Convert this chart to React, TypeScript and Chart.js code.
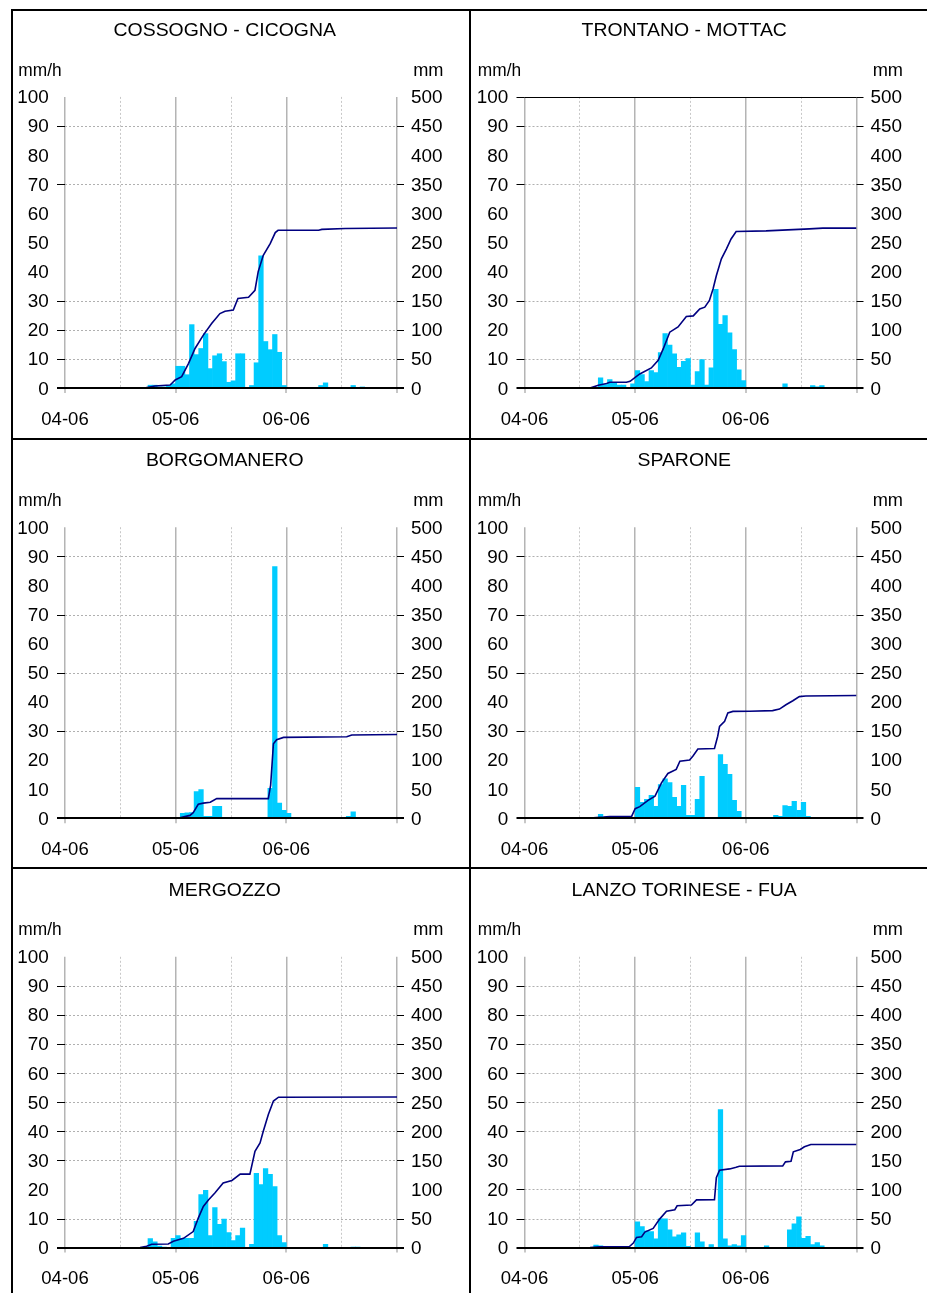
import React, { useEffect, useRef } from "react";
import { Chart, registerables } from "chart.js";

Chart.register(...registerables);

// ---------- axes / labels ----------
const dayHours = [0, 24, 48, 72];
const dayLabels = ["04-06", "05-06", "06-06"];
const leftTicks = [0, 10, 20, 30, 40, 50, 60, 70, 80, 90, 100];
const rightTicks = [0, 50, 100, 150, 200, 250, 300, 350, 400, 450, 500];

// ---------- COSSOGNO - CICOGNA ----------
const cossognoRain = [
  0, 0, 0, 0, 0, 0, 0, 0, 0, 0, 0, 0,
  0, 0, 0, 0, 0, 0, 1.0, 1.0, 0.4, 0.4, 0.8, 1.5,
  7.5, 7.5, 4.6, 21.8, 11.5, 13.6, 18.7, 6.7, 11.1, 11.8, 9.1, 2.0,
  2.5, 11.8, 11.8, 0, 0.9, 8.7, 45.4, 16.0, 13.2, 18.4, 12.3, 0.9,
  0, 0, 0, 0, 0, 0, 0, 0.9, 1.8, 0, 0, 0,
  0, 0, 0.9, 0, 0.4, 0, 0, 0, 0, 0, 0, 0,
];
const cossognoCumHours = [17.2, 19.5, 22.8, 23.9, 25.3, 26.8, 28.2, 30.0, 31.8, 33.6, 34.7, 36.5, 37.5, 39.8, 41.2, 41.9, 43.0, 44.5, 45.6, 46.2, 55.0, 55.7, 60.8, 72.0];
const cossognoCumMm = [0, 3.6, 5.3, 14, 19.7, 42.5, 68, 91, 111, 128, 132, 134, 154, 156, 168, 200, 228, 248, 267, 271, 271, 272.5, 274, 275];

// ---------- TRONTANO - MOTTAC ----------
const trontanoRain = [
  0, 0, 0, 0, 0, 0, 0, 0, 0, 0, 0, 0,
  0, 0, 0, 0, 3.5, 1.2, 2.9, 1.7, 1.0, 1.0, 0, 1.5,
  6.0, 4.6, 2.2, 6.0, 5.3, 12.2, 18.7, 14.8, 11.8, 7.1, 9.2, 10.1,
  1.0, 5.7, 9.8, 1.0, 7.0, 33.9, 21.9, 24.9, 19.0, 13.2, 6.3, 2.6,
  0.3, 0, 0, 0, 0, 0.3, 0, 0, 1.5, 0, 0, 0,
  0, 0.3, 0.9, 0.4, 0.9, 0, 0, 0, 0, 0, 0, 0,
];
const trontanoCumHours = [14.2, 16.0, 17.8, 18.5, 22.1, 22.9, 24.0, 25.0, 27.5, 29.0, 30.1, 31.5, 33.3, 35.1, 36.6, 38.0, 39.1, 40.1, 40.9, 41.6, 42.7, 43.8, 44.8, 45.9, 52.4, 61.8, 64.7, 72];
const trontanoCumMm = [0, 5, 8, 10, 10, 11.7, 18.6, 24.3, 34.6, 47.7, 67.7, 96, 105, 123, 124, 136, 139, 150.6, 170.6, 193, 222, 239, 256, 269, 270, 273.4, 274.6, 274.6];

// ---------- BORGOMANERO ----------
const borgomaneroRain = [
  0, 0, 0, 0, 0, 0, 0, 0, 0, 0, 0, 0,
  0, 0, 0, 0, 0, 0, 0.2, 0.2, 0, 0, 0, 0,
  0, 1.7, 1.9, 2.0, 9.2, 9.9, 0.7, 0.7, 4.1, 4.1, 0, 0,
  0, 0, 0, 0, 0, 0, 0, 0, 10.3, 86.5, 5.2, 2.7,
  1.7, 0, 0, 0, 0, 0, 0, 0, 0, 0, 0, 0,
  0, 0.7, 2.2, 0, 0, 0, 0, 0, 0, 0, 0, 0,
];
const borgomaneroCumHours = [18.4, 24.9, 27.1, 27.8, 28.9, 30.0, 31.5, 32.9, 44.1, 44.6, 45.2, 45.9, 47.4, 61.1, 62.2, 72];
const borgomaneroCumMm = [0, 1, 5, 9.7, 24, 26, 27.5, 33.8, 33.8, 57, 128, 135, 139, 140, 143, 144];

// ---------- SPARONE ----------
const sparoneRain = [
  0, 0, 0, 0, 0, 0, 0, 0, 0, 0, 0, 0,
  0, 0, 0, 0.3, 1.4, 0, 0, 0, 0, 0, 0, 0,
  10.6, 5.5, 6.5, 7.9, 4.1, 11.6, 13.6, 12.3, 7.2, 4.1, 11.3, 1.0,
  1.0, 6.5, 14.4, 0, 0, 0, 21.9, 18.5, 15.1, 6.2, 2.4, 0,
  0, 0, 0, 0, 0, 0, 1.0, 0.7, 4.4, 4.1, 5.8, 2.7,
  5.5, 0.7, 0, 0, 0, 0, 0, 0, 0, 0, 0, 0,
];
const sparoneCumHours = [14.2, 14.9, 17.1, 18.5, 23.2, 24.0, 25.0, 26.8, 28.3, 29.7, 31.1, 32.9, 33.7, 35.8, 36.5, 37.6, 41.2, 41.9, 42.3, 43.4, 44.1, 45.2, 48.8, 53.8, 55.3, 56.7, 58.2, 59.6, 61.0, 72];
const sparoneCumMm = [0, 1, 2, 2.9, 2.9, 16.5, 20, 30.8, 38, 61, 77, 84, 98, 100, 106.6, 119, 120, 141, 158, 166.5, 181, 183.6, 184, 185, 187.6, 195, 202, 209, 210, 211];

// ---------- MERGOZZO ----------
const mergozzoRain = [
  0, 0, 0, 0, 0, 0, 0, 0, 0, 0, 0, 0,
  0, 0, 0, 0, 0, 0, 3.1, 2.0, 0.5, 0.2, 0, 3.2,
  4.1, 3.2, 3.2, 3.2, 9.0, 18.2, 19.7, 4.1, 13.8, 8.0, 9.8, 5.2,
  2.4, 4.1, 6.7, 0, 1.1, 25.5, 21.7, 27.2, 25.2, 21.0, 4.1, 1.7,
  0, 0, 0, 0, 0, 0, 0, 0, 1.1, 0, 0, 0,
  0, 0, 0.2, 0.2, 0, 0, 0, 0, 0, 0, 0, 0,
];
const mergozzoCumHours = [16.3, 17.7, 18.8, 22.4, 23.5, 25.7, 27.8, 28.9, 30.0, 31.1, 32.5, 34.3, 36.2, 38.0, 40.1, 41.2, 42.3, 43.0, 44.1, 45.2, 46.3, 72];
const mergozzoCumMm = [0, 2.3, 5.7, 6.3, 11, 16, 27.6, 50.6, 70.7, 82, 94, 111, 115.5, 126.4, 126.4, 165.5, 180, 200, 229, 252, 258.6, 259];

// ---------- LANZO TORINESE - FUA ----------
const lanzoRain = [
  0, 0, 0, 0, 0, 0, 0, 0, 0, 0, 0, 0,
  0, 0, 0, 0.9, 0.6, 0, 0, 0, 0, 0, 0, 0,
  8.9, 7.2, 5.8, 5.5, 3.0, 9.9, 9.9, 6.1, 3.7, 4.4, 5.1, 0.4,
  0, 5.1, 2.0, 0, 1.0, 0, 47.5, 3.0, 0.6, 1.0, 0.6, 4.1,
  0, 0, 0, 0, 0.6, 0, 0, 0, 0, 6.1, 8.2, 10.6,
  3.2, 3.9, 1.0, 1.7, 0.6, 0, 0, 0, 0, 0, 0, 0,
];
const lanzoCumHours = [14.2, 16.4, 22.7, 23.6, 24.3, 25.4, 26.1, 27.9, 29.3, 30.8, 32.6, 33.1, 36.2, 37.3, 41.2, 41.6, 42.3, 44.5, 45.9, 46.6, 56.0, 56.6, 57.8, 58.3, 59.8, 60.7, 62.1, 72];
const lanzoCumMm = [0, 1.4, 1.4, 7.8, 17.5, 18.7, 26.7, 33, 49, 62.4, 65.2, 72, 73.3, 82, 82.5, 120, 133, 135.3, 138, 140, 140.5, 147.4, 148.6, 164.7, 168.7, 173.3, 177.3, 177.3];

// which horizontal grid lines are visible in each panel
const panels = [
  { title: "COSSOGNO - CICOGNA", rain: cossognoRain, cumH: cossognoCumHours, cumMm: cossognoCumMm, grid: [10, 20, 30, 70, 90], topLine: false, col: 0, row: 0 },
  { title: "TRONTANO - MOTTAC", rain: trontanoRain, cumH: trontanoCumHours, cumMm: trontanoCumMm, grid: [10, 30, 70, 90], topLine: true, col: 1, row: 0 },
  { title: "BORGOMANERO", rain: borgomaneroRain, cumH: borgomaneroCumHours, cumMm: borgomaneroCumMm, grid: [30, 50, 70, 90], topLine: false, col: 0, row: 1 },
  { title: "SPARONE", rain: sparoneRain, cumH: sparoneCumHours, cumMm: sparoneCumMm, grid: [30, 50, 70, 90], topLine: false, col: 1, row: 1 },
  { title: "MERGOZZO", rain: mergozzoRain, cumH: mergozzoCumHours, cumMm: mergozzoCumMm, grid: [10, 30, 40, 50, 60, 70, 80, 90], topLine: false, col: 0, row: 2 },
  { title: "LANZO TORINESE - FUA", rain: lanzoRain, cumH: lanzoCumHours, cumMm: lanzoCumMm, grid: [10, 20, 40, 50, 60, 70, 80, 90], topLine: false, col: 1, row: 2 },
];

const COLS = [
  { cellX: 13, cellW: 456, plotL: 65, plotR: 397 },
  { cellX: 471, cellW: 456, plotL: 524.5, plotR: 856.5 },
];
const ROWS = [
  { cellY: 11, cellH: 427, plotT: 96.9, plotB: 388.1 },
  { cellY: 440, cellH: 427, plotT: 527.2, plotB: 818.3 },
  { cellY: 869, cellH: 424, plotT: 956.8, plotB: 1247.6 },
];

const FONT = '"Liberation Sans", Arial, Helvetica, sans-serif';

function drawStretched(ctx, text, x, y, align, size, sx) {
  ctx.save();
  ctx.font = `${size}px ${FONT}`;
  ctx.fillStyle = "#000";
  ctx.textAlign = "left";
  ctx.textBaseline = "alphabetic";
  const w = ctx.measureText(text).width * sx;
  const left = align === "left" ? x : align === "right" ? x - w : x - w / 2;
  ctx.translate(left, y);
  ctx.scale(sx, 1);
  ctx.fillText(text, 0, 0);
  ctx.restore();
}

function PanelChart({ panel }) {
  const ref = useRef(null);
  const col = COLS[panel.col];
  const row = ROWS[panel.row];

  useEffect(() => {
    const decor = {
      id: "panelDecor",
      beforeDatasetsDraw(chart) {
        const { ctx, chartArea: a, scales } = chart;
        const ys = scales.y;
        ctx.save();
        ctx.lineWidth = 1;
        ctx.strokeStyle = "#b0b0b0";
        ctx.setLineDash([2, 2]);
        for (const v of panel.grid) {
          const y = Math.round(ys.getPixelForValue(v)) + 0.5;
          ctx.beginPath();
          ctx.moveTo(a.left, y);
          ctx.lineTo(a.right, y);
          ctx.stroke();
        }
        ctx.setLineDash([]);
        if (panel.topLine) {
          const y = Math.round(ys.getPixelForValue(100)) + 0.5;
          ctx.strokeStyle = "#000";
          ctx.beginPath();
          ctx.moveTo(a.left, y);
          ctx.lineTo(a.right, y);
          ctx.stroke();
        }
        ctx.restore();
      },
      afterDraw(chart) {
        const { ctx, chartArea: a, scales } = chart;
        const xs = scales.x;
        const ys = scales.y;
        const y1 = scales.y1;
        ctx.save();
        // small marks below the axis at day boundaries
        ctx.strokeStyle = "#b4b4b4";
        ctx.lineWidth = 1.5;
        for (const h of dayHours) {
          const x = Math.round(xs.getPixelForValue(h));
          ctx.beginPath();
          ctx.moveTo(x, a.bottom);
          ctx.lineTo(x, a.bottom + 5);
          ctx.stroke();
        }
        // y tick marks where grid lines are visible
        ctx.strokeStyle = "#000";
        ctx.lineWidth = 1;
        const marks = panel.topLine ? [...panel.grid, 100] : panel.grid;
        for (const v of marks) {
          const y = Math.round(ys.getPixelForValue(v)) + 0.5;
          ctx.beginPath();
          ctx.moveTo(a.left - 8, y);
          ctx.lineTo(a.left, y);
          ctx.moveTo(a.right, y);
          ctx.lineTo(a.right + 7, y);
          ctx.stroke();
        }
        // x axis line
        const y0 = Math.round(ys.getPixelForValue(0));
        ctx.lineWidth = 2;
        ctx.beginPath();
        ctx.moveTo(a.left - 8, y0);
        ctx.lineTo(a.right + 7, y0);
        ctx.stroke();
        ctx.restore();

        // texts
        drawStretched(ctx, panel.title, (a.left + a.right) / 2 - 6.3, a.top - 60.8, "center", 17.5, 1.11);
        drawStretched(ctx, "mm/h", a.left - 46.7, a.top - 21.4, "left", 17.5, 0.99);
        drawStretched(ctx, "mm", a.right + 46.5, a.top - 21.4, "right", 17.5, 1.04);
        for (const v of leftTicks) {
          drawStretched(ctx, String(v), a.left - 16.3, ys.getPixelForValue(v) + 6.4, "right", 17.5, 1.08);
        }
        for (const v of rightTicks) {
          drawStretched(ctx, String(v), a.right + 14, y1.getPixelForValue(v) + 6.4, "left", 17.5, 1.08);
        }
        dayLabels.forEach((lab, i) => {
          drawStretched(ctx, lab, xs.getPixelForValue(dayHours[i]), a.bottom + 36.8, "center", 17.5, 1.06);
        });
      },
    };

    const chart = new Chart(ref.current, {
      type: "bar",
      data: {
        datasets: [
          {
            type: "line",
            data: panel.cumH.map((h, i) => ({ x: h, y: panel.cumMm[i] })),
            xAxisID: "x",
            yAxisID: "y1",
            borderColor: "#000080",
            borderWidth: 1.6,
            pointRadius: 0,
            tension: 0,
            fill: false,
            order: 0,
          },
          {
            type: "bar",
            data: panel.rain.map((v, i) => ({ x: i + 0.5, y: v })),
            xAxisID: "x",
            yAxisID: "y",
            backgroundColor: "#00CCFF",
            borderWidth: 0,
            barPercentage: 1,
            categoryPercentage: 1,
            order: 1,
          },
        ],
      },
      options: {
        animation: false,
        responsive: false,
        events: [],
        layout: {
          padding: {
            left: col.plotL - col.cellX,
            right: col.cellX + col.cellW - col.plotR,
            top: row.plotT - row.cellY,
            bottom: row.cellY + row.cellH - row.plotB,
          },
        },
        plugins: {
          legend: { display: false },
          tooltip: { enabled: false },
          title: { display: false },
        },
        scales: {
          x: {
            type: "linear",
            min: 0,
            max: 72,
            offset: false,
            ticks: { display: false, stepSize: 12, autoSkip: false },
            grid: {
              offset: false,
              drawTicks: false,
              color: (c) => (c.tick && c.tick.value % 24 === 0 ? "#b4b4b4" : "#c8c8c8"),
              lineWidth: (c) => (c.tick && c.tick.value % 24 === 0 ? 1.5 : 1),
            },
            border: {
              display: false,
              dash: (c) => (c.tick && c.tick.value % 24 !== 0 ? [2, 2] : []),
            },
          },
          y: {
            type: "linear",
            position: "left",
            min: 0,
            max: 100,
            ticks: { display: false, stepSize: 10 },
            grid: { display: false, drawTicks: false },
            border: { display: false },
          },
          y1: {
            type: "linear",
            position: "right",
            min: 0,
            max: 500,
            ticks: { display: false, stepSize: 50 },
            grid: { display: false, drawOnChartArea: false, drawTicks: false },
            border: { display: false },
          },
        },
      },
      plugins: [decor],
    });
    return () => chart.destroy();
  }, []);

  return (
    <canvas
      ref={ref}
      width={col.cellW}
      height={row.cellH}
      style={{ position: "absolute", left: col.cellX, top: row.cellY }}
    />
  );
}

export default function App() {
  const line = (l, t, w, h) => (
    <div style={{ position: "absolute", left: l, top: t, width: w, height: h, background: "#000" }} />
  );
  return (
    <div
      style={{
        position: "absolute",
        left: 0,
        top: 0,
        width: 927,
        height: 1293,
        background: "#fff",
        overflow: "hidden",
      }}
    >
      {panels.map((p, i) => (
        <PanelChart key={i} panel={p} />
      ))}
      {line(11, 9, 916, 2)}
      {line(11, 9, 2, 1284)}
      {line(469, 9, 2, 1284)}
      {line(11, 438, 916, 2)}
      {line(11, 867, 916, 2)}
    </div>
  );
}
